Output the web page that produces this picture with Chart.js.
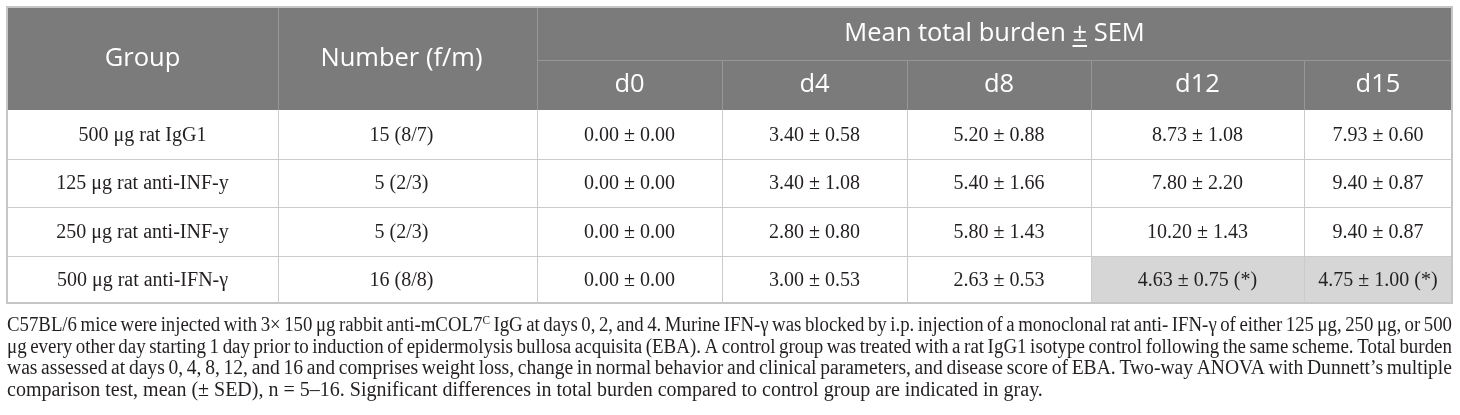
<!DOCTYPE html>
<html>
<head>
<meta charset="utf-8">
<script src="https://cdn.jsdelivr.net/npm/chart.js@4"></script>
<style>
  html, body { margin: 0; padding: 0; background: #fff; }
  #wrap { position: relative; width: 1460px; height: 415px; }
</style>
</head>
<body>
<div id="wrap"><canvas id="myChart"></canvas></div>
<script>
// Table content
const groups = ['500 \u03bcg rat IgG1', '125 \u03bcg rat anti-INF-y', '250 \u03bcg rat anti-INF-y', '500 \u03bcg rat anti-IFN-\u03b3'];
const numbers = ['15 (8/7)', '5 (2/3)', '5 (2/3)', '16 (8/8)'];
const days = ['d0', 'd4', 'd8', 'd12', 'd15'];
const means = [
    [0.00, 3.40, 5.20, 8.73, 7.93],
    [0.00, 3.40, 5.40, 7.80, 9.40],
    [0.00, 2.80, 5.80, 10.20, 9.40],
    [0.00, 3.00, 2.63, 4.63, 4.75]
];
const sems = [
    [0.00, 0.58, 0.88, 1.08, 0.60],
    [0.00, 1.08, 1.66, 2.20, 0.87],
    [0.00, 0.80, 1.43, 1.43, 0.87],
    [0.00, 0.53, 0.53, 0.75, 1.00]
];
const significant = [
    [false, false, false, false, false],
    [false, false, false, false, false],
    [false, false, false, false, false],
    [false, false, false, true, true]
];
const headGroup = 'Group';
const headNumber = 'Number (f/m)';
const headMean = ['Mean total burden ', '\u00b1', ' SEM'];
const captionLines = [
    'C57BL/6 mice were injected with 3\u00d7 150 \u03bcg rabbit anti-mCOL7^C IgG at days 0, 2, and 4. Murine IFN-\u03b3 was blocked by i.p. injection of a monoclonal rat anti- IFN-\u03b3 of either 125 \u03bcg, 250 \u03bcg, or 500',
    '\u03bcg every other day starting 1 day prior to induction of epidermolysis bullosa acquisita (EBA). A control group was treated with a rat IgG1 isotype control following the same scheme. Total burden',
    'was assessed at days 0, 4, 8, 12, and 16 and comprises weight loss, change in normal behavior and clinical parameters, and disease score of EBA. Two-way ANOVA with Dunnett\u2019s multiple',
    'comparison test, mean (\u00b1 SED), n = 5\u201316. Significant differences in total burden compared to control group are indicated in gray.'
];

// Layout (column widths / row heights in scale units)
const colWidths = [271, 259, 185, 185, 184, 213, 148];
const rowHeights = [53, 50, 49, 48, 49, 47];

const colEdges = colWidths.reduce((a, w) => { a.push(a[a.length - 1] + w); return a; }, [0]);
const rowEdges = rowHeights.reduce((a, h) => { a.push(a[a.length - 1] + h); return a; }, [0]);
const totalW = colEdges[colEdges.length - 1];
const totalH = rowEdges[rowEdges.length - 1];

const HEAD_BG = '#7b7b7b';
const HEAD_LINE = '#979797';
const BODY_LINE = '#cbcbcb';
const SIG_BG = '#d6d6d6';
const TEXT = '#231f20';
const CAP_FONT = '20px "Liberation Serif"';
const SUP_FONT = '12px "Liberation Serif"';

// caption words, '^' marks a superscript
function wordWidth(ctx, w) {
    const parts = w.split('^');
    let width = ctx.measureText(parts[0]).width;
    if (parts[1]) {
        ctx.font = SUP_FONT;
        width += ctx.measureText(parts[1]).width;
        ctx.font = CAP_FONT;
    }
    return width;
}
function drawWord(ctx, w, x, y) {
    const parts = w.split('^');
    ctx.fillText(parts[0], x, y);
    if (parts[1]) {
        const base = ctx.measureText(parts[0]).width;
        ctx.font = SUP_FONT;
        ctx.fillText(parts[1], x + base, y - 7);
        ctx.font = CAP_FONT;
    }
}

const tablePlugin = {
    id: 'tablePlugin',
    afterDraw(chart) {
        const ctx = chart.ctx;
        const xs = chart.scales.x, ys = chart.scales.y;
        const X = u => Math.round(xs.getPixelForValue(u));
        const Y = v => Math.round(ys.getPixelForValue(v));
        const nCols = colWidths.length;
        const L = X(0), R = X(totalW), T = Y(0), B = Y(totalH);

        ctx.save();
        // header background
        ctx.fillStyle = HEAD_BG;
        ctx.fillRect(L, T, R - L, Y(rowEdges[2]) - T);

        // highlighted cells
        ctx.fillStyle = SIG_BG;
        significant.forEach((row, r) => row.forEach((s, c) => {
            if (!s) return;
            const x0 = X(colEdges[c + 2]), x1 = X(colEdges[c + 3]);
            const y0 = Y(rowEdges[r + 2]), y1 = Y(rowEdges[r + 3]);
            ctx.fillRect(x0, y0, x1 - x0, y1 - y0);
        }));

        // body grid
        ctx.fillStyle = BODY_LINE;
        for (let r = 3; r < rowEdges.length - 1; r++) {
            ctx.fillRect(L, Y(rowEdges[r]), R - L, 1);
        }
        for (let c = 1; c < nCols; c++) {
            ctx.fillRect(X(colEdges[c]), Y(rowEdges[2]), 1, B - Y(rowEdges[2]));
        }

        // header grid
        ctx.fillStyle = HEAD_LINE;
        ctx.fillRect(X(colEdges[1]), T, 1, Y(rowEdges[2]) - T);
        ctx.fillRect(X(colEdges[2]), T, 1, Y(rowEdges[2]) - T);
        ctx.fillRect(X(colEdges[2]), Y(rowEdges[1]), R - X(colEdges[2]), 1);
        for (let c = 3; c < nCols; c++) {
            ctx.fillRect(X(colEdges[c]), Y(rowEdges[1]), 1, Y(rowEdges[2]) - Y(rowEdges[1]));
        }

        // outer border
        ctx.strokeStyle = '#c6c6c6';
        ctx.lineWidth = 2;
        ctx.strokeRect(L, T, R - L, B - T);

        // header text
        ctx.fillStyle = '#ffffff';
        ctx.font = '25.5px "Open Sans"';
        ctx.textAlign = 'center';
        ctx.textBaseline = 'middle';
        const midY0 = (Y(rowEdges[0]) + Y(rowEdges[2])) / 2;
        ctx.fillText(headGroup, (X(colEdges[0]) + X(colEdges[1])) / 2, midY0);
        ctx.fillText(headNumber, (X(colEdges[1]) + X(colEdges[2])) / 2 - 6, midY0);
        const midTop = (Y(rowEdges[0]) + Y(rowEdges[1])) / 2;
        const full = headMean.join('');
        const fw = ctx.measureText(full).width;
        const hx = (X(colEdges[2]) + R) / 2 - fw / 2;
        ctx.textAlign = 'left';
        ctx.fillText(full, hx, midTop);
        const preW = ctx.measureText(headMean[0]).width;
        const pmW = ctx.measureText(headMean[1]).width;
        ctx.fillRect(hx + preW, Math.round(midTop + 11), pmW, 2);
        ctx.textAlign = 'center';
        const midSub = (Y(rowEdges[1]) + Y(rowEdges[2])) / 2;
        days.forEach((d, i) => {
            ctx.fillText(d, (X(colEdges[i + 2]) + X(colEdges[i + 3])) / 2, midSub);
        });

        // body text
        ctx.fillStyle = TEXT;
        ctx.font = '20px "Liberation Serif"';
        groups.forEach((g, r) => {
            const cy = (Y(rowEdges[r + 2]) + Y(rowEdges[r + 3])) / 2 + 1;
            ctx.fillText(g, (X(colEdges[0]) + X(colEdges[1])) / 2, cy);
            ctx.fillText(numbers[r], (X(colEdges[1]) + X(colEdges[2])) / 2 - 6, cy);
            means[r].forEach((m, c) => {
                let txt = m.toFixed(2) + ' \u00b1 ' + sems[r][c].toFixed(2);
                if (significant[r][c]) txt += ' (*)';
                ctx.fillText(txt, (X(colEdges[c + 2]) + X(colEdges[c + 3])) / 2, cy);
            });
        });

        // caption, each full line justified to the table width
        ctx.font = CAP_FONT;
        ctx.textAlign = 'left';
        ctx.textBaseline = 'alphabetic';
        const target = R - L;
        const spaceW = ctx.measureText(' ').width;
        const baseY = B + 28;
        captionLines.forEach((line, i) => {
            const ws = line.split(' ');
            const last = i === captionLines.length - 1;
            const wordsW = ws.reduce((s, w) => s + wordWidth(ctx, w), 0);
            const natural = wordsW + spaceW * 0.75 * (ws.length - 1);
            const scale = last ? 1 : Math.min(1, target / natural);
            const y = baseY + i * 21.5;
            ctx.save();
            ctx.translate(L, y);
            ctx.scale(scale, 1);
            const gap = last ? spaceW : (target / scale - wordsW) / (ws.length - 1);
            let x = 0;
            ws.forEach(w => {
                drawWord(ctx, w, x, 0);
                x += wordWidth(ctx, w) + gap;
            });
            ctx.restore();
        });
        ctx.restore();
    }
};

function init() {
    new Chart(document.getElementById('myChart'), {
        type: 'scatter',
        data: { datasets: [] },
        options: {
            responsive: true,
            maintainAspectRatio: false,
            animation: false,
            layout: { padding: { left: 7, right: 8, top: 7, bottom: 415 - 7 - totalH } },
            plugins: { legend: { display: false }, tooltip: { enabled: false } },
            scales: {
                x: { type: 'linear', min: 0, max: totalW, display: false },
                y: { type: 'linear', min: 0, max: totalH, reverse: true, display: false }
            }
        },
        plugins: [tablePlugin]
    });
}

window.onload = init;
</script>
</body>
</html>
